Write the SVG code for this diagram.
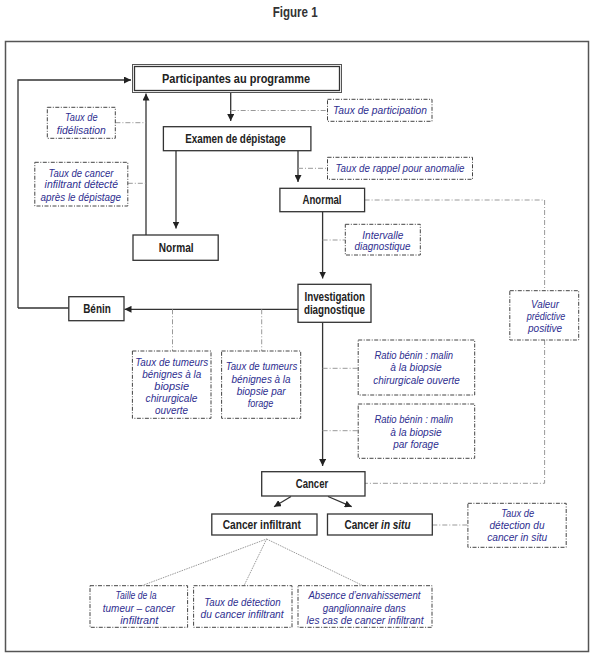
<svg xmlns="http://www.w3.org/2000/svg" width="590" height="656" viewBox="0 0 590 656">
<defs>
<style>
.bx{fill:#fff;stroke:#333;stroke-width:1.3}
.dbx{fill:#fff;stroke:#444;stroke-width:1;stroke-dasharray:4 1.5 1 1.5}
.ln{fill:none;stroke:#333;stroke-width:1.3}
.dd{fill:none;stroke:#999;stroke-width:1;stroke-dasharray:5 2 1 2}
.dt{fill:none;stroke:#999;stroke-width:1;stroke-dasharray:1.5 1}
text{font-family:"Liberation Sans","DejaVu Sans Condensed",Arial,sans-serif;text-anchor:middle}
.t{font-weight:bold;font-size:12.5px;fill:#222}
.b{font-style:italic;font-size:10.5px;fill:#2e2e8f}
</style>
<marker id="ah" viewBox="0 0 10 10" refX="10" refY="5" markerWidth="7" markerHeight="7" markerUnits="userSpaceOnUse" orient="auto">
<path d="M0,0 L10,5 L0,10 z" fill="#222"/>
</marker>
</defs>
<rect width="590" height="656" fill="#fff"/>
<text x="295.2" y="16.7" font-size="14" font-weight="bold" fill="#333" textLength="45" lengthAdjust="spacingAndGlyphs">Figure 1</text>
<rect x="5.5" y="41.5" width="583" height="610" fill="none" stroke="#555" stroke-width="1.5"/>

<g id="connectors">
<path class="ln" d="M18,308 V80 H131" marker-end="url(#ah)"/>
<path class="ln" d="M68.8,308 H18"/>
<path class="ln" d="M146,235 V93.5" marker-end="url(#ah)"/>
<path class="ln" d="M230.7,92.5 V121" marker-end="url(#ah)"/>
<path class="ln" d="M176,151 V228.5" marker-end="url(#ah)"/>
<path class="ln" d="M298,151 V182" marker-end="url(#ah)"/>
<path class="ln" d="M322.6,212 V278.5" marker-end="url(#ah)"/>
<path class="ln" d="M298,309.3 H124.5" marker-end="url(#ah)"/>
<path class="ln" d="M322.6,322.5 V466" marker-end="url(#ah)"/>
<path class="ln" d="M291,496.5 L274,506.7" marker-end="url(#ah)"/>
<path class="ln" d="M328,496.5 L351.7,506.7" marker-end="url(#ah)"/>
<path class="dd" d="M230.7,110.5 H327.5"/>
<path class="dd" d="M115.4,122.7 H146"/>
<path class="dd" d="M127.8,183.3 H146"/>
<path class="dd" d="M298,168.3 H327.5"/>
<path class="dd" d="M364.6,200 H544.6 V290.7"/>
<path class="dd" d="M322.6,240 H345.3"/>
<path class="dd" d="M172.5,309.3 V351"/>
<path class="dd" d="M261.7,309.3 V351"/>
<path class="dd" d="M322.6,368.3 H358.2"/>
<path class="dd" d="M322.6,430.7 H358.2"/>
<path class="dd" d="M544.6,340 V483.3 H365"/>
<path class="dd" d="M432.3,525 H467.9"/>
<path class="dt" d="M141.8,585.7 L266.6,539 L244,585.7 M266.6,539 L363,585.7"/>
</g>

<g id="participantes">
<rect x="132.5" y="64.5" width="209" height="28" fill="#fff" stroke="#555" stroke-width="1"/>
<rect x="134.5" y="66.5" width="205" height="24" fill="none" stroke="#333" stroke-width="1.3"/>
<text class="t" x="236" y="83" textLength="148" lengthAdjust="spacingAndGlyphs">Participantes au programme</text>
</g>
<g id="taux-participation">
<rect class="dbx" x="327.5" y="99.3" width="104.5" height="22"/>
<text class="b" x="380" y="114" textLength="94" lengthAdjust="spacingAndGlyphs">Taux de participation</text>
</g>
<g id="taux-fidelisation">
<rect class="dbx" x="47.3" y="107.3" width="68" height="31"/>
<text class="b" x="81.3" y="121" textLength="32.5" lengthAdjust="spacingAndGlyphs">Taux de</text>
<text class="b" x="81.3" y="133.5" textLength="49" lengthAdjust="spacingAndGlyphs">fidélisation</text>
</g>
<g id="examen">
<rect class="bx" x="163.4" y="126.7" width="147.5" height="24"/>
<text class="t" x="235.5" y="143" textLength="100.7" lengthAdjust="spacingAndGlyphs">Examen de dépistage</text>
</g>
<g id="taux-rappel">
<rect class="dbx" x="327.5" y="157.3" width="145" height="22"/>
<text class="b" x="400" y="172" textLength="129" lengthAdjust="spacingAndGlyphs">Taux de rappel pour anomalie</text>
</g>
<g id="taux-cancer-apres">
<rect class="dbx" x="34.8" y="162.3" width="93" height="43.7"/>
<text class="b" x="81" y="176.5" textLength="65" lengthAdjust="spacingAndGlyphs">Taux de cancer</text>
<text class="b" x="81.3" y="188" textLength="73.4" lengthAdjust="spacingAndGlyphs">infiltrant détecté</text>
<text class="b" x="80.8" y="200.5" textLength="80.5" lengthAdjust="spacingAndGlyphs">après le dépistage</text>
</g>
<g id="anormal">
<rect class="bx" x="279.9" y="188.3" width="84.7" height="23.4"/>
<text class="t" x="322" y="204.3" textLength="39" lengthAdjust="spacingAndGlyphs">Anormal</text>
</g>
<g id="intervalle">
<rect class="dbx" x="345.3" y="224.3" width="75" height="30.7"/>
<text class="b" x="382.8" y="238.5" textLength="41" lengthAdjust="spacingAndGlyphs">Intervalle</text>
<text class="b" x="382.6" y="250" textLength="56" lengthAdjust="spacingAndGlyphs">diagnostique</text>
</g>
<g id="normal">
<rect class="bx" x="133" y="235" width="85.2" height="25.3"/>
<text class="t" x="176.2" y="252" textLength="34.8" lengthAdjust="spacingAndGlyphs">Normal</text>
</g>
<g id="benin">
<rect class="bx" x="68.8" y="296.7" width="55.2" height="24"/>
<text class="t" x="97" y="313" textLength="27.6" lengthAdjust="spacingAndGlyphs">Bénin</text>
</g>
<g id="investigation">
<rect class="bx" x="298" y="284.3" width="73" height="38"/>
<text class="t" x="334.7" y="300.5" textLength="60.5" lengthAdjust="spacingAndGlyphs">Investigation</text>
<text class="t" x="334.4" y="314" textLength="61" lengthAdjust="spacingAndGlyphs">diagnostique</text>
</g>
<g id="valeur">
<rect class="dbx" x="509.8" y="290.7" width="68.9" height="49.3"/>
<text class="b" x="545" y="307.5" textLength="28" lengthAdjust="spacingAndGlyphs">Valeur</text>
<text class="b" x="546" y="320" textLength="38.6" lengthAdjust="spacingAndGlyphs">prédictive</text>
<text class="b" x="545" y="331.5" textLength="34" lengthAdjust="spacingAndGlyphs">positive</text>
</g>
<g id="tumeurs-chir">
<rect class="dbx" x="132.4" y="351" width="78.6" height="67.3"/>
<text class="b" x="171.7" y="365.5" textLength="73" lengthAdjust="spacingAndGlyphs">Taux de tumeurs</text>
<text class="b" x="171.7" y="377.5" textLength="59" lengthAdjust="spacingAndGlyphs">bénignes à la</text>
<text class="b" x="171.7" y="389.5" textLength="34.8" lengthAdjust="spacingAndGlyphs">biopsie</text>
<text class="b" x="171.5" y="401.5" textLength="51.8" lengthAdjust="spacingAndGlyphs">chirurgicale</text>
<text class="b" x="171.5" y="413.5" textLength="33" lengthAdjust="spacingAndGlyphs">ouverte</text>
</g>
<g id="tumeurs-forage">
<rect class="dbx" x="221.6" y="351" width="79.1" height="67.3"/>
<text class="b" x="261.5" y="370" textLength="71.5" lengthAdjust="spacingAndGlyphs">Taux de tumeurs</text>
<text class="b" x="261.1" y="383" textLength="59" lengthAdjust="spacingAndGlyphs">bénignes à la</text>
<text class="b" x="261.2" y="395" textLength="48.8" lengthAdjust="spacingAndGlyphs">biopsie par</text>
<text class="b" x="260.5" y="406.5" textLength="25.7" lengthAdjust="spacingAndGlyphs">forage</text>
</g>
<g id="ratio-chir">
<rect class="dbx" x="358.2" y="340" width="116.5" height="55"/>
<text class="b" x="413.8" y="358.5" textLength="78.7" lengthAdjust="spacingAndGlyphs">Ratio bénin : malin</text>
<text class="b" x="416" y="371" textLength="51.5" lengthAdjust="spacingAndGlyphs">à la biopsie</text>
<text class="b" x="416.6" y="383.5" textLength="86.6" lengthAdjust="spacingAndGlyphs">chirurgicale ouverte</text>
</g>
<g id="ratio-forage">
<rect class="dbx" x="358.2" y="404" width="116.5" height="54.3"/>
<text class="b" x="413.8" y="423" textLength="78.7" lengthAdjust="spacingAndGlyphs">Ratio bénin : malin</text>
<text class="b" x="416" y="435.5" textLength="51.5" lengthAdjust="spacingAndGlyphs">à la biopsie</text>
<text class="b" x="416" y="447.5" textLength="45.4" lengthAdjust="spacingAndGlyphs">par forage</text>
</g>
<g id="cancer">
<rect class="bx" x="261.7" y="471.7" width="103.3" height="24.3"/>
<text class="t" x="312" y="488" textLength="32.3" lengthAdjust="spacingAndGlyphs">Cancer</text>
</g>
<g id="cancer-infiltrant">
<rect class="bx" x="211.8" y="514" width="105.2" height="21"/>
<text class="t" x="261.8" y="529" textLength="78.3" lengthAdjust="spacingAndGlyphs">Cancer infiltrant</text>
</g>
<g id="cancer-in-situ">
<rect class="bx" x="327.5" y="514" width="104.8" height="21"/>
<text class="t" transform="translate(377.5,529) scale(0.8,1)" x="0" y="0">Cancer <tspan font-style="italic">in situ</tspan></text>
</g>
<g id="detection-in-situ">
<rect class="dbx" x="467.9" y="503.3" width="98.3" height="44"/>
<text class="b" x="517.7" y="516.5" textLength="33" lengthAdjust="spacingAndGlyphs">Taux de</text>
<text class="b" x="517" y="528.5" textLength="55" lengthAdjust="spacingAndGlyphs">détection du</text>
<text class="b" x="517.2" y="541" textLength="60" lengthAdjust="spacingAndGlyphs">cancer in situ</text>
</g>
<g id="taille">
<rect class="dbx" x="90" y="585.7" width="97.6" height="41.6"/>
<text class="b" x="136" y="599" textLength="41" lengthAdjust="spacingAndGlyphs">Taille de la</text>
<text class="b" x="138.8" y="611.5" textLength="72" lengthAdjust="spacingAndGlyphs">tumeur – cancer</text>
<text class="b" x="139.2" y="624" textLength="38" lengthAdjust="spacingAndGlyphs">infiltrant</text>
</g>
<g id="detection-infiltrant">
<rect class="dbx" x="193.6" y="585.7" width="98.4" height="41.6"/>
<text class="b" x="242.4" y="605.5" textLength="76.4" lengthAdjust="spacingAndGlyphs">Taux de détection</text>
<text class="b" x="242.1" y="618" textLength="83" lengthAdjust="spacingAndGlyphs">du cancer infiltrant</text>
</g>
<g id="absence">
<rect class="dbx" x="298" y="585.7" width="134" height="41.6"/>
<text class="b" x="364.4" y="599" textLength="112" lengthAdjust="spacingAndGlyphs">Absence d’envahissement</text>
<text class="b" x="364.2" y="611.5" textLength="83" lengthAdjust="spacingAndGlyphs">ganglionnaire dans</text>
<text class="b" x="365" y="624" textLength="117" lengthAdjust="spacingAndGlyphs">les cas de cancer infiltrant</text>
</g>
</svg>
